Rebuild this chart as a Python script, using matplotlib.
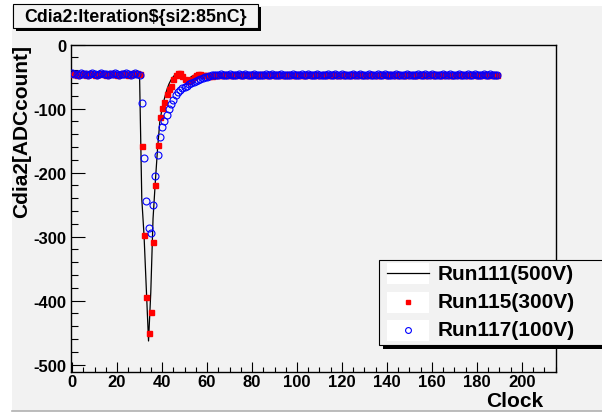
import matplotlib
matplotlib.use("Agg")
import matplotlib.pyplot as plt
from matplotlib.patches import Rectangle
from matplotlib.lines import Line2D
from matplotlib.ticker import MultipleLocator
import numpy as np

plt.rcParams['font.family'] = ['Liberation Sans', 'DejaVu Sans']
plt.rcParams['font.weight'] = 'bold'
plt.rcParams['axes.unicode_minus'] = False

# ---- data (Clock = sample index 0..189) ----
clock = np.arange(190)

run111_500V = [
    -46, -46, -46, -46, -46, -46, -46, -46, -46, -46,
    -46, -46, -46, -46, -46, -46, -46, -46, -46, -46,
    -46, -46, -46, -46, -46, -46, -46, -46, -46, -46,
    -46, -241, -298, -382, -463, -387, -272, -215, -163, -121,
    -100, -85, -72, -62, -55, -50, -46, -44, -45, -48,
    -52, -54, -53, -50, -48, -47, -47, -47, -47, -47,
    -47, -47, -47, -47, -47, -47, -47, -47, -47, -47,
    -47, -47, -47, -47, -47, -47, -47, -47, -47, -47,
    -47, -47, -47, -47, -47, -47, -47, -47, -47, -47,
    -47, -47, -47, -47, -47, -47, -47, -47, -47, -47,
    -47, -47, -47, -47, -47, -47, -47, -47, -47, -47,
    -47, -47, -47, -47, -47, -47, -47, -47, -47, -47,
    -47, -47, -47, -47, -47, -47, -47, -47, -47, -47,
    -47, -47, -47, -47, -47, -47, -47, -47, -47, -47,
    -47, -47, -47, -47, -47, -47, -47, -47, -47, -47,
    -47, -47, -47, -47, -47, -47, -47, -47, -47, -47,
    -47, -47, -47, -47, -47, -47, -47, -47, -47, -47,
    -47, -47, -47, -47, -47, -47, -47, -47, -47, -47,
    -47, -47, -47, -47, -47, -47, -47, -47, -47, -47,
]

run115_300V = [
    -46, -45, -47, -46, -46, -45, -47, -46, -45, -46,
    -47, -46, -46, -45, -46, -47, -46, -45, -46, -46,
    -47, -46, -45, -46, -46, -47, -45, -46, -46, -45,
    -46, -159, -298, -395, -450, -418, -308, -219, -156, -113,
    -99, -89, -77, -69, -64, -53, -47, -44, -45, -49,
    -54, -57, -57, -54, -50, -47, -46, -46, -47, -47,
    -48, -49, -49, -48, -48, -47, -48, -47, -46, -47,
    -48, -47, -47, -46, -47, -48, -47, -46, -47, -47,
    -46, -47, -48, -47, -46, -47, -47, -48, -46, -47,
    -47, -46, -47, -48, -47, -47, -46, -47, -48, -47,
    -46, -47, -47, -48, -47, -46, -47, -47, -46, -48,
    -47, -47, -46, -47, -48, -47, -46, -47, -47, -48,
    -47, -46, -47, -47, -48, -46, -47, -47, -46, -47,
    -48, -47, -47, -46, -47, -47, -48, -47, -46, -47,
    -47, -48, -46, -47, -47, -46, -47, -48, -47, -47,
    -46, -47, -47, -48, -47, -46, -47, -47, -48, -46,
    -47, -47, -46, -48, -47, -47, -46, -47, -47, -48,
    -47, -46, -47, -47, -46, -48, -47, -47, -46, -47,
    -47, -48, -47, -46, -47, -47, -48, -46, -47, -47,
]

run117_100V = [
    -45, -46, -46, -47, -45, -46, -46, -47, -46, -45,
    -46, -47, -46, -45, -46, -46, -47, -46, -46, -45,
    -46, -47, -46, -46, -45, -46, -47, -46, -45, -46,
    -47, -91, -177, -244, -287, -294, -250, -205, -172, -144,
    -129, -119, -110, -100, -93, -86, -78, -74, -71, -68,
    -66, -64, -62, -60, -58, -57, -55, -54, -52, -51,
    -50, -49, -48, -48, -47, -47, -46, -47, -48, -47,
    -46, -47, -47, -48, -46, -47, -47, -46, -48, -47,
    -47, -46, -47, -47, -48, -47, -46, -47, -47, -46,
    -48, -47, -47, -46, -47, -48, -47, -47, -46, -47,
    -47, -48, -46, -47, -47, -46, -47, -48, -47, -46,
    -47, -47, -48, -47, -46, -47, -47, -46, -48, -47,
    -46, -47, -47, -48, -47, -46, -47, -47, -46, -47,
    -48, -47, -46, -47, -47, -48, -46, -47, -47, -46,
    -47, -47, -48, -47, -46, -47, -47, -48, -47, -46,
    -47, -48, -47, -47, -46, -47, -47, -46, -48, -47,
    -46, -47, -47, -48, -47, -46, -47, -47, -46, -48,
    -47, -47, -46, -47, -48, -47, -46, -47, -47, -46,
    -47, -48, -47, -46, -47, -47, -46, -47, -48, -47,
]

title = r"Cdia2:Iteration\${si2:85nC}"
legend_labels = ["Run111(500V)", "Run115(300V)", "Run117(100V)"]

W, H = 602, 414
GREY = '#f2f2f2'


def fx(px):
    return px / W


def fy(py):
    return 1 - py / H


fig = plt.figure(figsize=(W / 100, H / 100), dpi=100, facecolor='white')

# pad background
fig.patches.append(Rectangle((fx(12), fy(412)), fx(602) - fx(12), fy(7) - fy(412),
                             transform=fig.transFigure, facecolor=GREY,
                             edgecolor='none', zorder=-10))
fig.add_artist(Line2D([fx(12), fx(602)], [fy(412), fy(412)], color='#b0b0b0',
                      lw=1.2, transform=fig.transFigure))

ax = fig.add_axes([fx(70.7), fy(372.7), fx(555.7) - fx(70.7), fy(45.7) - fy(372.7)])
ax.set_facecolor(GREY)

ax.plot(clock, run111_500V, color='black', lw=0.9, zorder=2)
ax.plot(clock, run115_300V, ls='none', marker='s', ms=3.6, color='red', mec='red', zorder=3)
ax.plot(clock, run117_100V, ls='none', marker='o', ms=5.0, mfc='none', mec='blue',
        mew=0.8, zorder=4)

ax.set_xlim(-0.6, 215)
ax.set_ylim(-511, 0)
ax.xaxis.set_major_locator(MultipleLocator(20))
ax.xaxis.set_minor_locator(MultipleLocator(5))
ax.yaxis.set_major_locator(MultipleLocator(100))
ax.yaxis.set_minor_locator(MultipleLocator(20))
ax.tick_params(axis='x', which='major', direction='in', length=7.2, width=0.8, pad=2, labelsize=12)
ax.tick_params(axis='x', which='minor', direction='in', length=3.6, width=0.8)
ax.tick_params(axis='y', which='major', direction='in', length=10, width=0.8, pad=3, labelsize=12)
ax.tick_params(axis='y', which='minor', direction='in', length=5, width=0.8)
for lab in ax.get_xticklabels() + ax.get_yticklabels():
    lab.set_fontweight('bold')
for s in ax.spines.values():
    s.set_linewidth(1)
    s.set_color('black')

# axis titles (ROOT style: at the far end of the axes)
fig.text(fx(543), fy(402), "Clock", ha='right', va='center', fontsize=15, fontweight='bold')
fig.text(fx(21.7), fy(45), "Cdia2[ADCcount]", ha='center', va='top', rotation=90,
         fontsize=15, fontweight='bold')

# title box with shadow
fig.add_artist(Rectangle((fx(16), fy(32)), fx(261) - fx(16), fy(8) - fy(32),
                         transform=fig.transFigure, facecolor='black', edgecolor='none', zorder=5))
fig.add_artist(Rectangle((fx(13), fy(29)), fx(258) - fx(13), fy(5) - fy(29),
                         transform=fig.transFigure, facecolor=GREY, edgecolor='black',
                         lw=0.8, zorder=6))
fig.text(fx(136), fy(17.5), title, ha='center', va='center', fontsize=12.8,
         fontweight='bold', zorder=7)

# legend box with shadow
fig.add_artist(Rectangle((fx(383), fy(350)), fx(610) - fx(383), fy(265) - fy(350),
                         transform=fig.transFigure, facecolor='black', edgecolor='none', zorder=5))
fig.add_artist(Rectangle((fx(379), fy(346)), fx(606) - fx(379), fy(261) - fy(346),
                         transform=fig.transFigure, facecolor=GREY, edgecolor='black',
                         lw=0.8, zorder=6))
entry_y = [274, 303, 331]
for yy in entry_y:
    fig.add_artist(Rectangle((fx(387), fy(yy + 10.5)), fx(429) - fx(387), fy(yy - 10.5) - fy(yy + 10.5),
                             transform=fig.transFigure, facecolor='white', edgecolor='none', zorder=7))
fig.add_artist(Line2D([fx(387), fx(429)], [fy(entry_y[0])] * 2, color='black', lw=0.9,
                      transform=fig.transFigure, zorder=8))
fig.add_artist(Line2D([fx(408)], [fy(entry_y[1])], ls='none', marker='s', ms=3.0, color='red',
                      transform=fig.transFigure, zorder=8))
fig.add_artist(Line2D([fx(408)], [fy(entry_y[2])], ls='none', marker='o', ms=4.2, mfc='none',
                      mec='blue', mew=0.8, transform=fig.transFigure, zorder=8))
for yy, lab in zip(entry_y, legend_labels):
    fig.text(fx(438), fy(yy), lab, ha='left', va='center', fontsize=15, fontweight='bold', zorder=9)

fig.savefig("out.png", dpi=100, facecolor=fig.get_facecolor())
